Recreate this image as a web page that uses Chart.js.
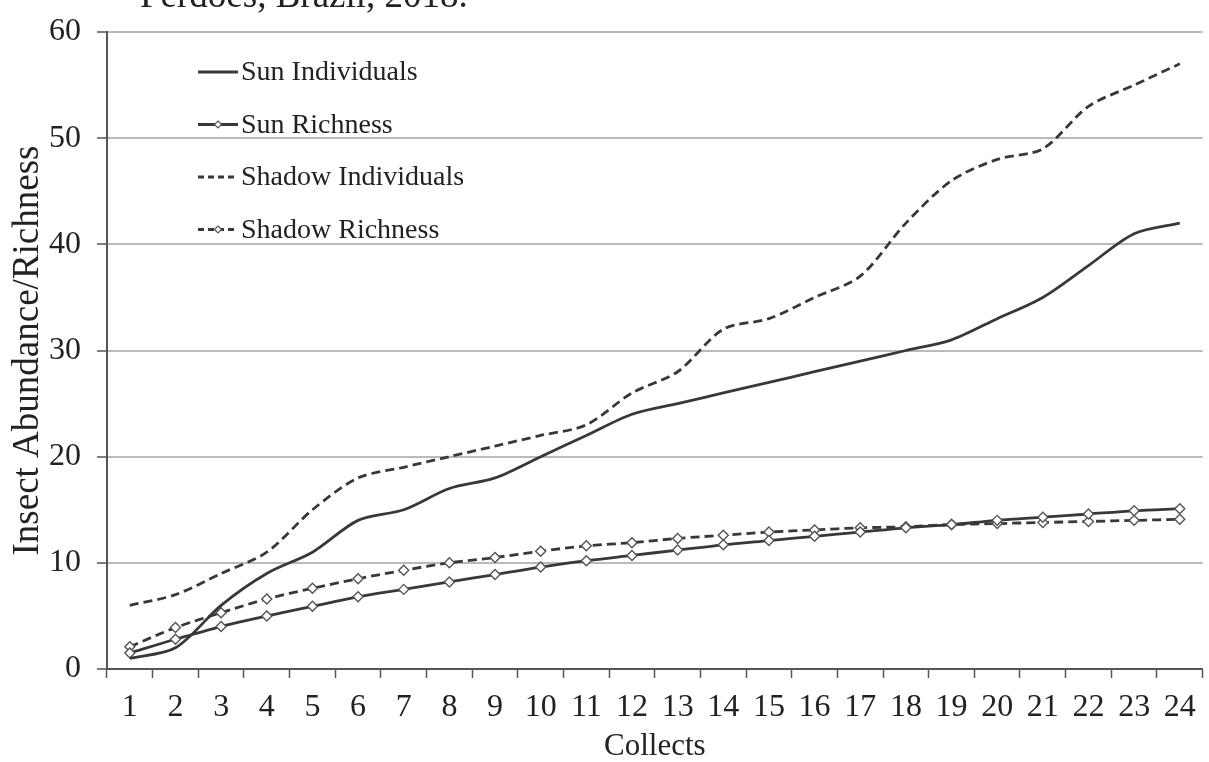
<!DOCTYPE html>
<html>
<head>
<meta charset="utf-8">
<script src="https://cdn.jsdelivr.net/npm/chart.js@4.4.1/dist/chart.umd.min.js"></script>
<style>
  html, body { margin: 0; padding: 0; background: #fff; }
  canvas { display: block; }
</style>
</head>
<body>
<canvas id="chart" width="1209" height="762"></canvas>
<script>
// values
const collects = ['1','2','3','4','5','6','7','8','9','10','11','12','13','14','15','16','17','18','19','20','21','22','23','24'];
const sunIndividuals = [1, 2, 6, 9, 11, 14, 15, 17, 18, 20, 22, 24, 25, 26, 27, 28, 29, 30, 31, 33, 35, 38, 41, 42];
const sunRichness = [1.5, 2.8, 4.0, 5.0, 5.9, 6.8, 7.5, 8.2, 8.9, 9.6, 10.2, 10.7, 11.2, 11.7, 12.1, 12.5, 12.9, 13.3, 13.6, 14.0, 14.3, 14.6, 14.9, 15.1];
const shadowIndividuals = [6, 7, 9, 11, 15, 18, 19, 20, 21, 22, 23, 26, 28, 32, 33, 35, 37, 42, 46, 48, 49, 53, 55, 57];
const shadowRichness = [2.1, 3.9, 5.3, 6.6, 7.6, 8.5, 9.3, 10.0, 10.5, 11.1, 11.6, 11.9, 12.3, 12.6, 12.9, 13.1, 13.3, 13.4, 13.6, 13.7, 13.8, 13.9, 14.0, 14.1];
const yTicks = [0, 10, 20, 30, 40, 50, 60];

const serif = '"Liberation Serif", "Times New Roman", serif';
const ink = '#383838';

function series(label, data, dashed, markers) {
    return {
        label: label,
        data: data,
        borderColor: ink,
        borderWidth: 2.8,
        borderDash: dashed ? [9, 5] : [],
        tension: 0.3,
        pointStyle: 'rectRot',
        pointRadius: markers ? 5 : 0,
        pointBorderWidth: 1.4,
        pointBorderColor: '#555',
        pointBackgroundColor: '#fff'
    };
}

// legend drawn inside the plot, like the original
const innerLegend = {
    id: 'innerLegend',
    afterDraw(chart) {
        const ctx = chart.ctx;
        const area = chart.chartArea;
        ctx.save();
        chart.data.datasets.forEach((ds, i) => {
            const x0 = area.left + 91;
            const y = area.top + 40 + i * 52.5;
            ctx.strokeStyle = ds.borderColor;
            ctx.lineWidth = ds.borderWidth;
            ctx.setLineDash(ds.borderDash.length ? [6, 4] : []);
            ctx.beginPath();
            ctx.moveTo(x0, y);
            ctx.lineTo(x0 + 40, y);
            ctx.stroke();
            ctx.setLineDash([]);
            if (ds.pointRadius > 0) {
                const r = 3.5;
                ctx.fillStyle = '#fff';
                ctx.strokeStyle = '#555';
                ctx.lineWidth = 1.2;
                ctx.beginPath();
                ctx.moveTo(x0 + 20, y - r);
                ctx.lineTo(x0 + 20 + r, y);
                ctx.lineTo(x0 + 20, y + r);
                ctx.lineTo(x0 + 20 - r, y);
                ctx.closePath();
                ctx.fill();
                ctx.stroke();
            }
            ctx.fillStyle = '#222';
            ctx.font = '28px ' + serif;
            ctx.textBaseline = 'middle';
            ctx.textAlign = 'left';
            ctx.fillText(ds.label, x0 + 43, y + 1);
        });
        ctx.restore();
    }
};

// the caption above the figure is cut off at the top edge
const cutCaption = {
    id: 'cutCaption',
    afterDraw(chart) {
        const ctx = chart.ctx;
        ctx.save();
        ctx.fillStyle = '#222';
        ctx.font = '37px ' + serif;
        ctx.textBaseline = 'alphabetic';
        ctx.textAlign = 'left';
        ctx.fillText('Perdões, Brazil, 2018.', 140, 7);
        ctx.restore();
    }
};

new Chart(document.getElementById('chart'), {
    type: 'line',
    data: {
        labels: collects,
        datasets: [
            series('Sun Individuals', sunIndividuals, false, false),
            series('Sun Richness', sunRichness, false, true),
            series('Shadow Individuals', shadowIndividuals, true, false),
            series('Shadow Richness', shadowRichness, true, true)
        ]
    },
    options: {
        responsive: false,
        animation: false,
        layout: { padding: { top: 10, right: 5, left: 6, bottom: 0 } },
        plugins: {
            legend: { display: false },
            tooltip: { enabled: false }
        },
        scales: {
            x: {
                offset: true,
                afterFit(scale) { scale.height = 93; },
                border: { color: '#555', width: 2 },
                grid: {
                    offset: true,
                    drawOnChartArea: false,
                    tickLength: 9,
                    tickColor: '#555',
                    tickWidth: 1.5
                },
                ticks: {
                    color: '#222',
                    font: { family: serif, size: 32 },
                    padding: 10,
                    maxRotation: 0,
                    autoSkip: false
                },
                title: {
                    display: true,
                    text: 'Collects',
                    color: '#222',
                    font: { family: serif, size: 31 },
                    padding: { top: 0, bottom: -3 }
                }
            },
            y: {
                min: 0,
                max: 60,
                afterBuildTicks(axis) {
                    axis.ticks = yTicks.map(v => ({ value: v }));
                },
                afterFit(scale) { scale.width = 101; },
                border: { color: '#555', width: 2 },
                grid: {
                    color: '#bababa',
                    lineWidth: 2,
                    borderDash: [4, 2],
                    tickLength: 10,
                    tickColor: '#555',
                    tickWidth: 1.5,
                    tickBorderDash: []
                },
                ticks: {
                    color: '#222',
                    font: { family: serif, size: 32, lineHeight: 1.0 },
                    padding: 16
                },
                title: {
                    display: true,
                    text: 'Insect Abundance/Richness',
                    color: '#222',
                    font: { family: serif, size: 37 },
                    padding: { top: 0, bottom: 0 }
                }
            }
        }
    },
    plugins: [innerLegend, cutCaption]
});
</script>
</body>
</html>
